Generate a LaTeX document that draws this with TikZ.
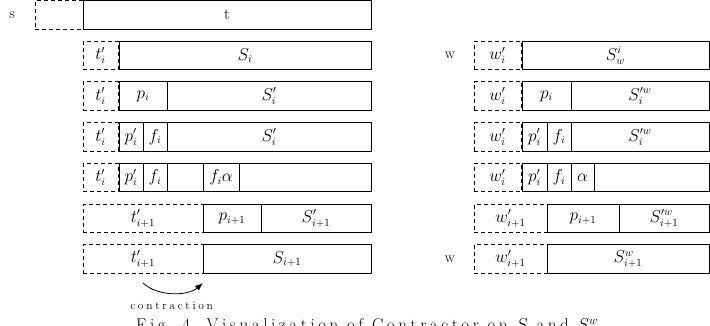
\documentclass[tikz,border=0pt]{standalone}
\usepackage{fontspec}
\usetikzlibrary{arrows.meta}
\newcommand\bx[6]{%
  \pgfmathsetmacro\bxw{#4-#3}\pgfmathsetmacro\bxc{(#3+#4)/2}%
  \node[#1, minimum width=\bxw pt] (#2) at (\bxc,#5) {#6};}
\makeatletter
\newcommand\lsp[2]{\def\lsp@k{#1}\lsp@a#2\@nil}
\def\lsp@a#1{\ifx#1\@nil\else#1\kern\lsp@k\expandafter\lsp@a\fi}
\makeatother
\begin{document}
\begin{tikzpicture}[x=1pt,y=-1pt,
  cell/.style={draw, line width=0.8pt, minimum height=28.5pt, inner sep=0pt, outer sep=0pt, font=\fontsize{16}{18}\selectfont},
  dcell/.style={cell, dash pattern=on 4pt off 3pt},
  lbl/.style={font=\fontsize{15}{17}\selectfont, inner sep=0pt},
  arr/.style={-{Latex[length=8pt,width=6pt]}, line width=0.8pt}]
\useasboundingbox (0,0) rectangle (710,326);
% left
\node[lbl] (s) at (12,15) {s};
\bx{dcell}{s0}{35}{83}{15}{}
\bx{cell}{t0}{83}{371}{15}{t}
\bx{dcell}{la2}{83}{118}{55.5}{$t'_i$}
\bx{cell}{lb2}{119}{371}{55.5}{$S_i$}
\bx{dcell}{la3}{83}{118}{96}{$t'_i$}
\bx{cell}{lb3}{119}{167}{96}{$p_i$}
\bx{cell}{lc3}{167}{371}{96}{$S'_i$}
\bx{dcell}{la4}{83}{118}{137}{$t'_i$}
\bx{cell}{lb4}{119}{143}{137}{$p'_i$}
\bx{cell}{lc4}{143}{167}{137}{$f_i$}
\bx{cell}{ld4}{167}{371}{137}{$S'_i$}
\bx{dcell}{la5}{83}{118}{177.5}{$t'_i$}
\bx{cell}{lb5}{119}{143}{177.5}{$p'_i$}
\bx{cell}{lc5}{143}{167}{177.5}{$f_i$}
\bx{cell}{ld5}{167}{203}{177.5}{}
\bx{cell}{le5}{203}{239}{177.5}{$f_i\alpha$}
\bx{cell}{lf5}{239}{371}{177.5}{}
\bx{dcell}{la6}{83}{203}{218.5}{$t'_{i+1}$}
\bx{cell}{lb6}{203}{261}{218.5}{$p_{i+1}$}
\bx{cell}{lc6}{261}{371}{218.5}{$S'_{i+1}$}
\bx{dcell}{la7}{83}{203}{259}{$t'_{i+1}$}
\bx{cell}{lb7}{203}{371}{259}{$S_{i+1}$}
% right
\node[lbl] (w1) at (450,55.5) {w};
\bx{dcell}{ra2}{474}{521}{55.5}{$w'_i$}
\bx{cell}{rb2}{522}{709}{55.5}{$S^i_w$}
\bx{dcell}{ra3}{474}{521}{96}{$w'_i$}
\bx{cell}{rb3}{522}{571}{96}{$p_i$}
\bx{cell}{rc3}{571}{709}{96}{$S^{\prime w}_i$}
\bx{dcell}{ra4}{474}{521}{137}{$w'_i$}
\bx{cell}{rb4}{522}{547}{137}{$p'_i$}
\bx{cell}{rc4}{547}{571}{137}{$f_i$}
\bx{cell}{rd4}{571}{709}{137}{$S^{\prime w}_i$}
\bx{dcell}{ra5}{474}{521}{177.5}{$w'_i$}
\bx{cell}{rb5}{522}{547}{177.5}{$p'_i$}
\bx{cell}{rc5}{547}{571}{177.5}{$f_i$}
\bx{cell}{rd5}{571}{594}{177.5}{$\alpha$}
\bx{cell}{re5}{594}{709}{177.5}{}
\bx{dcell}{ra6}{474}{547}{218.5}{$w'_{i+1}$}
\bx{cell}{rb6}{547}{619}{218.5}{$p_{i+1}$}
\bx{cell}{rc6}{619}{709}{218.5}{$S^{\prime w}_{i+1}$}
\node[lbl] (w2) at (450,259) {w};
\bx{dcell}{ra7}{474}{547}{259}{$w'_{i+1}$}
\bx{cell}{rb7}{547}{709}{259}{$S^w_{i+1}$}
% contraction arrow
\coordinate (c1) at (143,283);
\coordinate (c2) at (203,283);
\draw[arr] (c1) .. controls (158,297) and (188,296) .. (c2);
\node[inner sep=0pt, font=\fontsize{11.5}{13}\selectfont] (ctr) at (173,306) {\lsp{2.7pt}{contraction}};
% caption
\node[anchor=base west, inner sep=0pt, font=\fontsize{17}{19}\selectfont] (cap) at (136,330.5)
  {\lsp{3.6pt}{Fig.}\ \lsp{3.6pt}{4.}\ \lsp{3.6pt}{Visualization}\ \lsp{3.6pt}{of}\ \lsp{3.6pt}{Contractor}\ \lsp{3.6pt}{on}\ $S$\kern3.6pt\ \lsp{3.6pt}{and}\ $S^w$};
\end{tikzpicture}
\end{document}
